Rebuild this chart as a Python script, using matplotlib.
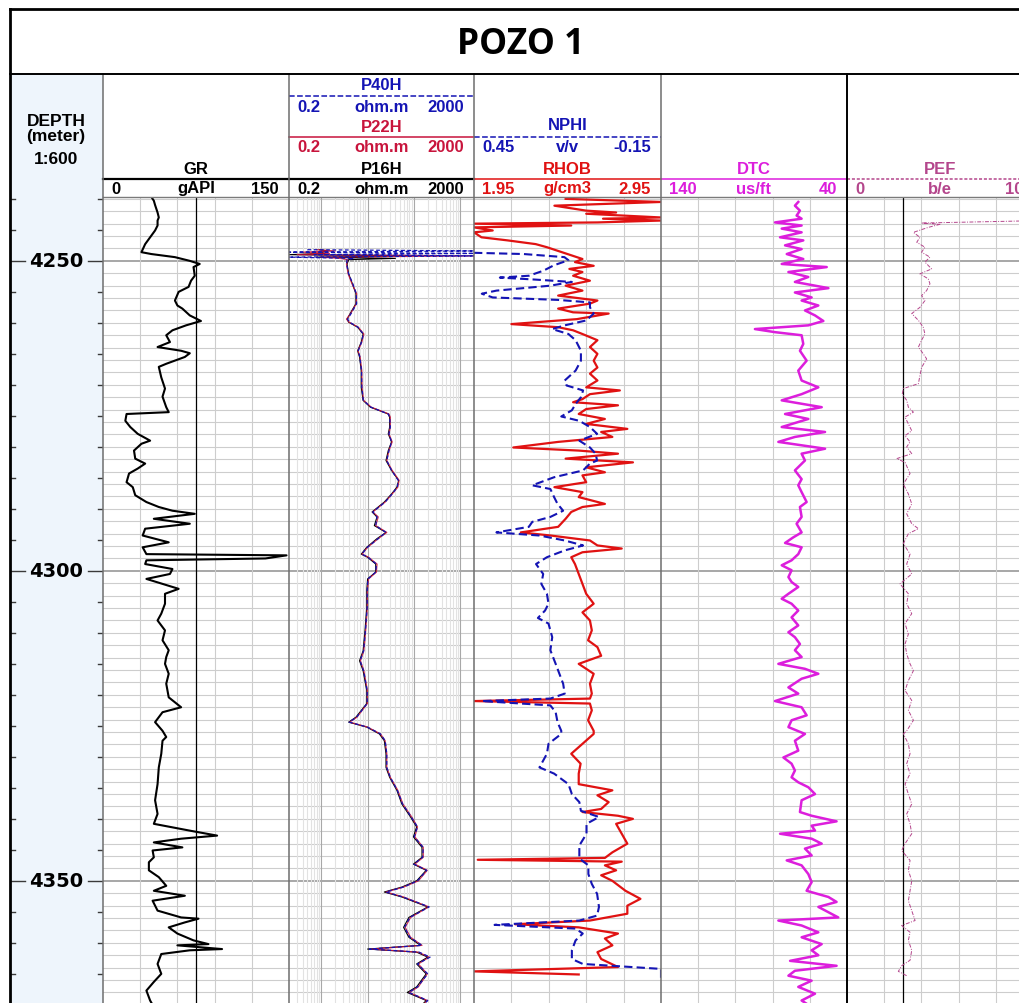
import matplotlib.pyplot as plt
from matplotlib.patches import Rectangle
import numpy as np

W, H = 1020, 1004
TOP, BASE = 4239.7, 4369.7                      # depth at top / bottom of the log body
HEAD_TOP, HEAD_BOT = 75, 198
EDGES = [10, 103, 289, 474, 661, 847, 1033]     # track borders in pixels

BLUE = '#1414b4'
CRIMSON = '#c8143c'
RED = '#e01212'
MAGENTA = '#dc1edc'
PEF_COL = '#b4468c'
GRID = '#cdcdcd'
DEPTH_BG = '#eef5fc'
HFONT = 'Liberation Sans'

# ---- curves -------------------------------------------------------------
GR_DEPTH = [4239.7, 4240.3, 4241.0, 4242.2, 4243.0, 4243.5, 4244.3, 4245.1, 4246.2, 4247.3,
            4248.6, 4248.9, 4249.4, 4250.0, 4250.5, 4251.0, 4252.4, 4253.2, 4254.2, 4255.0,
            4256.4, 4257.2, 4257.7, 4258.8, 4259.7, 4260.4, 4261.2, 4262.0, 4263.1, 4263.9,
            4264.5, 4264.9, 4265.5, 4266.6, 4267.1, 4268.8, 4270.6, 4271.9, 4273.6, 4274.4,
            4274.7, 4275.8, 4276.8, 4277.9, 4279.0, 4279.5, 4280.6, 4281.9, 4282.7, 4283.5,
            4284.3, 4285.7, 4286.5, 4287.8, 4288.9, 4289.7, 4290.3, 4290.8, 4291.6, 4292.4,
            4293.2, 4294.3, 4295.4, 4296.2, 4297.3, 4297.5, 4298.0, 4298.3, 4298.9, 4299.7,
            4300.5, 4301.3, 4302.1, 4302.9, 4303.7, 4305.3, 4306.9, 4308.0, 4309.6, 4311.2,
            4312.8, 4313.9, 4315.0, 4316.6, 4318.2, 4320.4, 4322.0, 4322.8, 4324.4, 4325.8,
            4326.8, 4327.4, 4329.5, 4331.7, 4334.4, 4337.0, 4339.2, 4340.8, 4341.9, 4342.7,
            4343.2, 4343.8, 4344.6, 4345.1, 4346.2, 4347.0, 4348.3, 4349.4, 4350.8, 4351.6,
            4352.4, 4353.2, 4354.8, 4355.9, 4356.1, 4356.7, 4357.5, 4358.5, 4359.6, 4360.2,
            4360.4, 4361.0, 4361.2, 4361.8, 4363.4, 4365.0, 4366.3, 4367.7, 4369.3, 4370.0]
GR = [39, 41, 42, 44, 45, 44, 44, 42, 38, 34,
      31, 39, 58, 70, 78, 73, 74, 71, 69, 61,
      58, 60, 64, 70, 79, 67, 56, 51, 54, 44,
      63, 70, 66, 51, 45, 47, 50, 48, 51, 53,
      19, 18, 22, 28, 38, 31, 25, 26, 34, 28,
      21, 19, 24, 26, 35, 45, 56, 74, 41, 70,
      34, 32, 53, 32, 35, 148, 131, 35, 34, 56,
      54, 35, 48, 61, 50, 50, 47, 44, 50, 48,
      53, 51, 50, 53, 51, 53, 63, 48, 42, 48,
      51, 48, 47, 45, 44, 42, 44, 41, 70, 92,
      63, 41, 64, 40, 41, 37, 37, 45, 51, 41,
      66, 40, 44, 63, 77, 66, 53, 60, 73, 85,
      60, 96, 70, 47, 44, 47, 41, 35, 38, 40]

RES_DEPTH = [4248.2, 4248.4, 4248.6, 4248.8, 4249.0, 4249.2, 4249.4, 4249.6, 4249.8, 4250.5,
             4252.1, 4253.7, 4255.3, 4256.9, 4258.5, 4259.4, 4259.9, 4260.7, 4261.8, 4263.1,
             4264.5, 4265.5, 4267.7, 4270.4, 4272.5, 4273.6, 4274.7, 4275.2, 4276.8, 4277.9,
             4279.2, 4280.6, 4282.2, 4283.8, 4285.4, 4286.5, 4287.6, 4288.9, 4290.5, 4291.3,
             4292.7, 4293.8, 4294.8, 4296.2, 4297.3, 4297.8, 4298.9, 4300.2, 4301.3, 4303.2,
             4305.9, 4309.6, 4312.9, 4314.5, 4316.1, 4319.3, 4321.4, 4323.6, 4324.4, 4325.2,
             4326.3, 4327.4, 4329.5, 4331.7, 4333.3, 4335.4, 4337.6, 4339.7, 4341.3, 4342.9,
             4344.6, 4346.2, 4347.3, 4348.3, 4350.0, 4351.0, 4351.8, 4352.6, 4354.2, 4355.9,
             4357.5, 4359.1, 4360.4, 4361.0, 4361.5, 4362.3, 4363.4, 4365.0, 4367.1, 4368.0,
             4369.3, 4370.0]
P16H = [0.9, 1.4, 0.9, 1.2, 0.15, 90, 0.8, 40, 3.9, 3.6,
        3.9, 4.7, 5.6, 5.6, 4.2, 3.6, 3.9, 6.1, 8.0, 7.3,
        6.1, 6.7, 7.3, 7.3, 8.0, 11.5, 28, 30, 30, 28,
        33, 28, 25, 33, 47, 43, 33, 23, 12.5, 16,
        14, 25, 16, 9.6, 7.3, 10, 15, 15, 10, 9.6,
        9.6, 8.8, 8.0, 6.7, 8.0, 9.6, 9.6, 5.6, 3.9, 9.6,
        18, 23, 25, 25, 30, 43, 55, 85, 115, 98,
        150, 150, 98, 185, 115, 55, 23, 55, 200, 78,
        60, 78, 140, 10, 115, 200, 115, 185, 115, 72,
        185, 150]
P22H = [0.8, 2.0, 0.4, 1.5, 0.3, 3000, 1.0, 2.5, 3.7, 3.5,
        3.8, 4.6, 5.8, 5.7, 4.3, 3.5, 4.0, 6.3, 8.3, 7.5,
        6.2, 6.9, 7.5, 7.6, 8.2, 12, 29, 31, 31, 29,
        34, 29, 26, 34, 48, 45, 34, 24, 13, 17,
        15, 26, 17, 10, 7.6, 10.5, 16, 15.5, 10.5, 9.9,
        9.9, 9.1, 8.3, 7.0, 8.3, 9.9, 9.9, 5.9, 4.1, 10,
        19, 24, 26, 26, 31, 45, 58, 90, 120, 105,
        160, 160, 105, 195, 125, 60, 25, 60, 210, 85,
        65, 85, 150, 12, 125, 215, 125, 195, 125, 80,
        195, 160]
P40H = [0.5, 3000, 0.15, 3000, 0.7, 3000, 0.15, 5.0, 3.6, 3.5,
        3.9, 4.8, 5.7, 5.8, 4.4, 3.7, 4.1, 6.2, 8.1, 7.4,
        6.3, 6.8, 7.4, 7.5, 8.1, 11.8, 28, 30, 31, 29,
        33, 29, 26, 33, 46, 44, 34, 24, 13, 16,
        15, 25, 17, 9.9, 7.5, 10.2, 15.5, 15, 10.2, 9.8,
        9.8, 9.0, 8.2, 6.9, 8.2, 9.8, 9.8, 5.8, 4.0, 9.9,
        19, 24, 26, 26, 31, 44, 57, 88, 120, 102,
        160, 155, 100, 190, 120, 60, 25, 58, 215, 82,
        63, 82, 150, 11, 130, 225, 120, 200, 120, 78,
        200, 160]

RHOB_DEPTH = [4240.0, 4240.5, 4241.1, 4241.9, 4242.2, 4242.4, 4243.0, 4243.2, 4243.5, 4243.8,
              4244.0, 4244.3, 4244.6, 4245.1, 4245.4, 4246.2, 4246.7, 4247.3, 4247.8, 4248.6,
              4249.1, 4249.7, 4250.2, 4250.8, 4251.3, 4251.8, 4252.4, 4253.2, 4254.0, 4254.8,
              4255.6, 4256.4, 4256.9, 4257.7, 4258.3, 4258.5, 4259.4, 4260.2, 4260.7, 4261.2,
              4261.8, 4262.8, 4263.9, 4265.0, 4266.1, 4267.2, 4268.2, 4269.3, 4270.4, 4270.9,
              4271.5, 4272.3, 4272.8, 4273.3, 4273.9, 4274.7, 4275.5, 4276.3, 4277.1, 4277.6,
              4278.4, 4279.2, 4280.1, 4280.6, 4281.1, 4281.9, 4282.5, 4283.3, 4284.1, 4284.6,
              4285.7, 4286.5, 4287.3, 4288.1, 4289.2, 4289.7, 4290.5, 4291.6, 4292.9, 4293.8,
              4294.3, 4295.1, 4295.9, 4296.4, 4297.0, 4297.8, 4298.9, 4300.5, 4302.1, 4303.7,
              4305.3, 4306.7, 4308.0, 4309.6, 4311.2, 4312.3, 4313.7, 4315.0, 4316.6, 4318.2,
              4319.8, 4320.6, 4321.0, 4321.4, 4322.5, 4324.1, 4325.8, 4326.3, 4327.9, 4329.5,
              4331.1, 4332.7, 4334.4, 4335.4, 4336.2, 4337.3, 4338.4, 4338.9, 4339.5, 4340.0,
              4340.8, 4342.4, 4344.0, 4345.4, 4346.3, 4346.6, 4346.9, 4347.5, 4348.3, 4349.1,
              4350.0, 4351.6, 4352.9, 4354.0, 4355.3, 4356.4, 4357.0, 4357.5, 4358.5, 4359.3,
              4360.4, 4361.5, 4362.6, 4363.9, 4364.6, 4365.1]
RHOB = [2.44, 3.0, 2.38, 2.55, 2.71, 2.55, 3.0, 2.64, 3.0, 2.61,
        1.9, 2.47, 1.9, 2.05, 1.95, 1.99, 2.13, 2.28, 2.34, 2.42,
        2.47, 2.53, 2.49, 2.59, 2.46, 2.53, 2.48, 2.57, 2.44, 2.53,
        2.40, 2.61, 2.57, 2.40, 2.48, 2.67, 2.50, 2.15, 2.40, 2.48,
        2.53, 2.61, 2.57, 2.61, 2.59, 2.61, 2.57, 2.61, 2.55, 2.73,
        2.57, 2.53, 2.48, 2.72, 2.55, 2.51, 2.65, 2.55, 2.77, 2.63,
        2.69, 2.40, 2.16, 2.51, 2.72, 2.44, 2.80, 2.55, 2.65, 2.53,
        2.55, 2.38, 2.53, 2.51, 2.65, 2.53, 2.47, 2.44, 2.40, 2.20,
        2.36, 2.57, 2.61, 2.74, 2.53, 2.47, 2.49, 2.51, 2.53, 2.55,
        2.59, 2.53, 2.57, 2.58, 2.56, 2.61, 2.63, 2.51, 2.59, 2.57,
        2.58, 2.57, 1.9, 2.57, 2.58, 2.56, 2.59, 2.59, 2.53, 2.47,
        2.52, 2.51, 2.51, 2.69, 2.61, 2.67, 2.63, 2.53, 2.72, 2.80,
        2.71, 2.74, 2.77, 2.69, 2.65, 1.97, 2.74, 2.65, 2.71, 2.63,
        2.69, 2.76, 2.84, 2.77, 2.77, 2.57, 2.17, 2.51, 2.72, 2.65,
        2.69, 2.61, 2.63, 2.72, 1.9, 2.51]

NPHI_DEPTH = [4248.7, 4248.9, 4249.4, 4249.9, 4250.7, 4251.6, 4252.4, 4252.7, 4253.0, 4253.4,
              4254.0, 4254.8, 4255.3, 4255.9, 4256.3, 4256.7, 4257.5, 4258.5, 4259.6, 4260.4,
              4261.0, 4261.8, 4262.8, 4264.5, 4266.1, 4267.7, 4269.3, 4270.1, 4270.9, 4272.0,
              4273.1, 4274.1, 4275.1, 4275.8, 4276.8, 4277.9, 4279.0, 4280.1, 4281.1, 4282.2,
              4282.7, 4283.8, 4284.9, 4286.2, 4286.8, 4288.1, 4289.2, 4290.3, 4291.3, 4292.1,
              4292.9, 4293.8, 4294.3, 4295.1, 4295.9, 4296.7, 4297.8, 4298.9, 4300.5, 4302.1,
              4303.7, 4305.3, 4306.4, 4307.6, 4308.5, 4310.7, 4312.8, 4315.0, 4316.6, 4318.2,
              4319.8, 4320.6, 4321.0, 4321.7, 4322.8, 4324.4, 4325.8, 4326.3, 4327.9, 4329.5,
              4331.7, 4332.7, 4334.4, 4336.0, 4337.3, 4338.7, 4339.7, 4340.8, 4342.4, 4344.3,
              4346.4, 4347.5, 4348.9, 4350.5, 4352.1, 4354.2, 4355.6, 4356.4, 4357.1, 4357.7,
              4358.5, 4359.6, 4361.2, 4362.6, 4363.4, 4364.2, 4366.1]
NPHI = [0.50, 0.29, 0.16, 0.147, 0.193, 0.228, 0.274, 0.367, 0.26, 0.136,
        0.205, 0.378, 0.425, 0.39, 0.18, 0.078, 0.078, 0.066, 0.089, 0.159,
        0.199, 0.147, 0.124, 0.107, 0.107, 0.124, 0.159, 0.153, 0.10, 0.107,
        0.124, 0.136, 0.17, 0.112, 0.078, 0.055, 0.112, 0.078, 0.060, 0.055,
        0.078, 0.10, 0.193, 0.263, 0.205, 0.193, 0.182, 0.164, 0.205, 0.263,
        0.274, 0.378, 0.240, 0.159, 0.10, 0.159, 0.216, 0.251, 0.228, 0.234,
        0.216, 0.211, 0.222, 0.245, 0.211, 0.199, 0.205, 0.188, 0.176, 0.164,
        0.159, 0.205, 0.425, 0.205, 0.188, 0.182, 0.170, 0.170, 0.211, 0.216,
        0.240, 0.193, 0.147, 0.136, 0.112, 0.107, 0.049, 0.089, 0.089, 0.112,
        0.112, 0.083, 0.083, 0.072, 0.055, 0.049, 0.055, 0.112, 0.384, 0.124,
        0.101, 0.124, 0.136, 0.136, 0.101, -0.20, -0.20]

DTC_DEPTH = [4240.5, 4241.1, 4241.9, 4242.7, 4243.2, 4243.8, 4244.3, 4244.8, 4245.4, 4246.2,
             4246.7, 4247.5, 4248.1, 4248.9, 4249.7, 4250.5, 4251.0, 4251.8, 4252.6, 4253.4,
             4254.4, 4255.1, 4255.9, 4256.4, 4257.2, 4258.0, 4258.8, 4259.7, 4260.4, 4261.0,
             4261.5, 4262.0, 4263.4, 4264.5, 4266.1, 4267.7, 4269.3, 4270.4, 4271.5, 4272.5,
             4273.6, 4274.7, 4275.5, 4276.8, 4277.6, 4278.4, 4279.2, 4280.3, 4281.1, 4282.2,
             4283.8, 4285.2, 4286.2, 4287.3, 4288.9, 4289.7, 4291.3, 4292.4, 4293.8, 4294.6,
             4295.5, 4296.2, 4297.3, 4298.3, 4299.1, 4299.9, 4301.0, 4301.8, 4302.6, 4303.7,
             4304.5, 4305.3, 4306.4, 4307.5, 4308.8, 4309.9, 4310.7, 4311.8, 4312.8, 4313.9,
             4315.0, 4315.8, 4316.6, 4317.4, 4318.8, 4319.8, 4321.0, 4322.0, 4323.3, 4324.1,
             4325.2, 4326.3, 4327.4, 4329.0, 4330.1, 4331.1, 4332.2, 4333.3, 4334.1, 4334.9,
             4336.0, 4337.0, 4338.9, 4339.5, 4340.4, 4341.1, 4341.9, 4342.4, 4343.2, 4344.0,
             4344.8, 4345.9, 4346.7, 4347.5, 4348.9, 4350.2, 4351.6, 4352.6, 4353.4, 4354.2,
             4355.9, 4356.4, 4357.2, 4358.3, 4359.1, 4360.2, 4361.2, 4362.0, 4362.9, 4363.7,
             4364.5, 4365.3, 4366.1, 4367.1, 4368.2, 4369.3, 4370.0]
DTC = [66.2, 68.0, 65.3, 67.1, 64.4, 78.7, 64.4, 75.1, 64.4, 76.0,
       63.5, 73.3, 64.4, 72.4, 63.5, 75.1, 50.9, 71.5, 60.8, 68.0,
       50.0, 68.0, 59.0, 64.4, 55.4, 62.6, 57.2, 52.7, 60.8, 89.5,
       78.7, 64.4, 63.5, 65.3, 61.7, 66.2, 64.4, 55.4, 64.4, 75.1,
       53.6, 73.3, 60.8, 75.1, 51.8, 68.0, 76.9, 51.8, 64.4, 62.6,
       68.0, 64.4, 66.2, 64.4, 61.7, 65.3, 64.4, 67.1, 64.4, 68.9,
       73.3, 64.4, 66.2, 69.8, 75.1, 69.8, 71.5, 69.8, 66.2, 71.5,
       75.1, 69.8, 66.2, 69.8, 66.2, 71.5, 68.0, 65.3, 68.0, 64.4,
       76.9, 62.6, 55.4, 64.4, 71.5, 66.2, 78.7, 64.4, 61.7, 69.8,
       71.5, 62.6, 68.0, 66.2, 74.2, 69.8, 68.0, 69.8, 66.2, 60.8,
       57.2, 64.4, 65.3, 59.0, 45.6, 59.0, 57.2, 76.0, 59.0, 53.6,
       62.6, 59.0, 72.4, 64.4, 60.8, 59.0, 61.7, 50.0, 45.6, 55.4,
       44.7, 76.9, 64.4, 55.4, 64.4, 53.6, 59.0, 55.4, 70.6, 45.6,
       68.0, 71.5, 59.0, 66.2, 57.2, 64.4, 60.8]

PEF_DEPTH = [4243.5, 4243.9, 4244.1, 4244.6, 4245.4, 4246.2, 4247.0, 4247.8, 4248.6, 4249.4,
             4250.2, 4251.3, 4252.1, 4252.9, 4253.7, 4254.8, 4255.6, 4256.4, 4257.5, 4258.5,
             4259.6, 4260.7, 4261.8, 4262.8, 4263.9, 4265.0, 4265.8, 4267.2, 4268.5, 4269.8,
             4270.6, 4271.5, 4272.5, 4273.6, 4274.4, 4275.2, 4276.3, 4277.4, 4278.2, 4279.2,
             4280.0, 4281.1, 4281.9, 4282.5, 4284.3, 4286.0, 4287.6, 4289.2, 4290.8, 4292.4,
             4293.2, 4294.0, 4295.6, 4297.3, 4298.9, 4300.5, 4302.1, 4303.7, 4305.3, 4306.9,
             4308.5, 4310.2, 4311.8, 4313.4, 4315.0, 4316.1, 4317.7, 4319.3, 4320.9, 4322.5,
             4324.1, 4325.8, 4326.3, 4327.9, 4329.5, 4331.1, 4332.7, 4334.4, 4336.0, 4337.6,
             4339.2, 4340.8, 4342.4, 4344.0, 4345.1, 4346.7, 4348.3, 4350.0, 4351.6, 4353.2,
             4354.8, 4356.4, 4357.2, 4358.3, 4359.6, 4361.2, 4362.8, 4363.7, 4364.6, 4365.3]
PEF = [12.0, 4.01, 5.0, 4.37, 3.57, 3.92, 3.75, 4.19, 4.01, 4.46,
       4.19, 4.55, 3.92, 4.37, 4.46, 4.28, 4.01, 4.19, 3.92, 3.48,
       3.84, 4.10, 4.19, 4.01, 3.84, 4.10, 4.28, 4.01, 3.92, 3.84,
       3.03, 2.97, 3.21, 3.30, 3.57, 3.12, 3.30, 3.48, 3.12, 3.39,
       3.21, 3.48, 2.67, 3.12, 3.39, 3.03, 3.30, 3.48, 3.21, 3.48,
       3.84, 3.30, 3.03, 3.39, 3.21, 3.48, 2.85, 3.30, 3.21, 3.48,
       3.12, 3.30, 3.12, 3.21, 3.39, 3.57, 3.30, 3.12, 3.48, 3.30,
       3.57, 3.21, 3.03, 3.30, 3.39, 3.21, 3.39, 3.12, 3.30, 3.48,
       3.21, 3.39, 3.48, 3.12, 2.94, 3.39, 3.30, 3.48, 3.39, 3.30,
       3.48, 3.66, 2.94, 3.39, 3.30, 3.48, 3.39, 2.94, 2.76, 3.21]

# header entries: track, slot (0 = lowest), mnemonic, unit, left, right, colour, line style
HEADERS = [
    (1, 0, 'GR', 'gAPI', '0', '150', 'black', '-'),
    (2, 2, 'P40H', 'ohm.m', '0.2', '2000', BLUE, '--'),
    (2, 1, 'P22H', 'ohm.m', '0.2', '2000', CRIMSON, '-'),
    (2, 0, 'P16H', 'ohm.m', '0.2', '2000', 'black', '-'),
    (3, 1, 'NPHI', 'v/v', '0.45', '-0.15', BLUE, '--'),
    (3, 0, 'RHOB', 'g/cm3', '1.95', '2.95', RED, '-'),
    (4, 0, 'DTC', 'us/ft', '140', '40', MAGENTA, '-'),
    (5, 0, 'PEF', 'b/e', '0', '10', PEF_COL, (0, (2, 1.2))),
]
SLOT_Y = {0: (170, 180, 189), 1: (127, 138, 148), 2: (86, 97, 107)}


def rect(x0, x1, y0, y1):
    return [x0 / W, 1 - y1 / H, (x1 - x0) / W, (y1 - y0) / H]


def track(i, xlim, xscale='linear', vgrid=(), cutoff=None):
    ax = fig.add_axes(rect(EDGES[i], EDGES[i + 1], HEAD_BOT, H))
    ax.set_xscale(xscale)
    ax.set_xlim(*xlim)
    ax.set_ylim(BASE, TOP)
    ax.tick_params(which='both', length=0, labelbottom=False, labelleft=False)
    for s in ax.spines.values():
        s.set_visible(False)
    for d in range(4240, 4371, 2):
        major = d % 50 == 0
        ax.axhline(d, color='#909090' if major else GRID, lw=1.1 if major else 0.8, zorder=0)
    for v, c in vgrid:
        ax.axvline(v, color=c, lw=0.8, zorder=0)
    if cutoff is not None:
        ax.axvline(cutoff, color='black', lw=0.9, zorder=1)
    return ax


fig = plt.figure(figsize=(W / 100, H / 100), dpi=100)

# depth column
axd = fig.add_axes(rect(EDGES[0], EDGES[1], HEAD_BOT, H), facecolor=DEPTH_BG)
axd.set_xlim(EDGES[0], EDGES[1])
axd.set_ylim(BASE, TOP)
axd.axis('off')
axd.add_patch(Rectangle((EDGES[0], TOP), EDGES[1] - EDGES[0], BASE - TOP, color=DEPTH_BG, lw=0))
for d in range(4240, 4371, 5):
    long_tick = d % 50 == 0
    axd.plot([10, 25 if long_tick else 15], [d, d], color='#3a3a3a', lw=1)
    axd.plot([88 if long_tick else 98, 103], [d, d], color='#3a3a3a', lw=1)
    if long_tick:
        axd.text(56, d, str(d), ha='center', va='center', fontsize=14,
                 fontweight='bold', family='DejaVu Sans')

# gamma ray
ax = track(1, (0, 150), vgrid=[(v, GRID) for v in (30, 60, 90, 120)], cutoff=75)
ax.plot(np.clip(GR, 0, 150), GR_DEPTH, color='black', lw=1.5)

# resistivity, log scale
res_grid = []
for dec in (0.1, 1, 10, 100, 1000):
    for m in range(1, 10):
        if 0.2 < m * dec < 2000:
            res_grid.append((m * dec, '#a8a8a8' if m == 1 else '#e2e2e2'))
ax = track(2, (0.2, 2000), xscale='log', vgrid=res_grid)
ax.plot(np.clip(P16H, 0.2, 2000), RES_DEPTH, color='black', lw=0.8)
ax.plot(np.clip(P22H, 0.2, 2000), RES_DEPTH, color=CRIMSON, lw=0.9, alpha=0.85)
ax.plot(np.clip(P40H, 0.2, 2000), RES_DEPTH, color=BLUE, lw=0.9, ls=(0, (3, 2)))

# density / neutron
ax = track(3, (1.95, 2.95), vgrid=[(v, GRID) for v in (2.15, 2.35, 2.55, 2.75)])
ax.plot(np.clip(RHOB, 1.95, 2.95), RHOB_DEPTH, color=RED, lw=1.6)
axn = ax.twiny()
axn.set_xlim(0.45, -0.15)
axn.axis('off')
axn.plot(np.clip(NPHI, -0.15, 0.45), NPHI_DEPTH, color=BLUE, lw=1.5, ls=(0, (4, 2)))

# sonic
ax = track(4, (140, 40), vgrid=[(v, GRID) for v in (120, 100, 80, 60)])
ax.plot(DTC, DTC_DEPTH, color=MAGENTA, lw=1.8)

# photoelectric factor
ax = track(5, (0, 10), vgrid=[(v, GRID) for v in (2, 4, 6, 8)], cutoff=3)
ax.plot(np.clip(PEF, 0, 10.5), PEF_DEPTH, color=PEF_COL, lw=0.7, ls=(0, (4, 1.5, 1, 1.5)))

# header, borders and title drawn on a pixel overlay
hdr = fig.add_axes([0, 0, 1, 1], zorder=10)
hdr.set_xlim(0, W)
hdr.set_ylim(H, 0)
hdr.axis('off')
hdr.patch.set_alpha(0)

hdr.add_patch(Rectangle((EDGES[0], HEAD_TOP), EDGES[1] - EDGES[0], HEAD_BOT - HEAD_TOP,
                        color=DEPTH_BG, lw=0))
for txt, y in (('DEPTH', 122), ('(meter)', 136), ('1:600', 159)):
    hdr.text(56, y, txt, ha='center', va='center', fontsize=12.5, fontweight='bold', family=HFONT)

for trk, slot, name, unit, left, right, col, ls in HEADERS:
    x0, x1 = EDGES[trk], EDGES[trk + 1]
    xc = (x0 + x1) / 2
    y_name, y_line, y_scale = SLOT_Y[slot]
    if name == 'NPHI':
        y_name -= 1
    hdr.text(xc, y_name, name, ha='center', va='center', fontsize=12,
             fontweight='bold', color=col, family=HFONT)
    hdr.plot([x0, x1], [y_line, y_line], color=col, ls=ls,
             lw=1.6 if col == 'black' else 1.1)
    kw = dict(va='center', fontsize=12, fontweight='bold', color=col, family=HFONT)
    hdr.text(x0 + 8, y_scale, left, ha='left', **kw)
    hdr.text(xc, y_scale, unit, ha='center', **kw)
    hdr.text(x1 - 10, y_scale, right, ha='right', **kw)

# frame lines
hdr.plot([EDGES[1], W], [HEAD_BOT, HEAD_BOT], color='#7a7a7a', lw=1)
for x in EDGES[1:5]:
    hdr.plot([x, x], [HEAD_TOP, H], color='#6e6e6e', lw=1.1)
hdr.plot([EDGES[5], EDGES[5]], [HEAD_TOP, H], color='black', lw=1.4)
hdr.plot([10, W], [10, 10], color='black', lw=2)
hdr.plot([10, 10], [10, H], color='black', lw=2)
hdr.plot([10, W], [HEAD_TOP, HEAD_TOP], color='black', lw=1.4)

hdr.text(521, 45, 'POZO 1', ha='center', va='center', fontsize=25.5,
         fontweight='bold', family='Open Sans')

fig.savefig('out.png', dpi=100)
